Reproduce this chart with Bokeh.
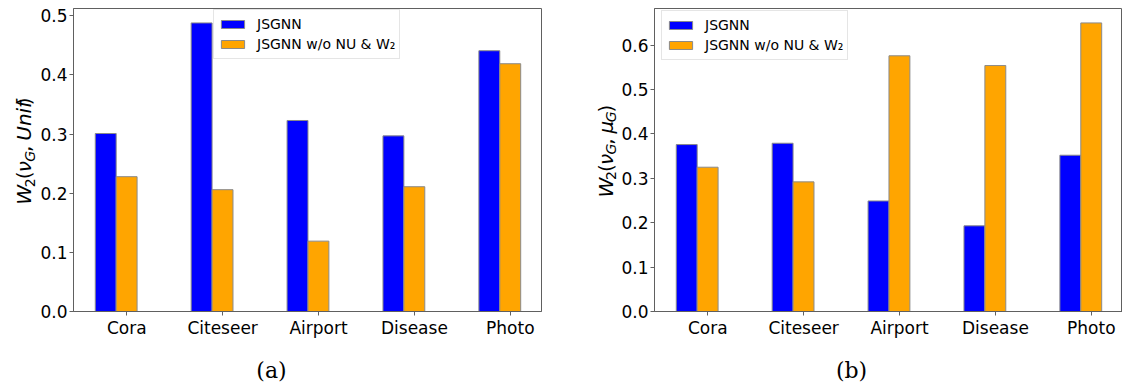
import math
from bokeh.plotting import figure
from bokeh.layouts import row, column
from bokeh.models import (Range1d, FixedTicker, NumeralTickFormatter,
                          Legend, LegendItem)
from bokeh.core.properties import value
from bokeh.embed import file_html
from bokeh.resources import INLINE

# ---------------- data ----------------
categories = ["Cora", "Citeseer", "Airport", "Disease", "Photo"]
series_names = ["JSGNN", "JSGNN w/o NU & W\u2082"]

unif_jsgnn = [0.301, 0.488, 0.323, 0.297, 0.441]
unif_ablation = [0.228, 0.206, 0.119, 0.211, 0.419]

mu_jsgnn = [0.376, 0.379, 0.249, 0.193, 0.352]
mu_ablation = [0.325, 0.292, 0.576, 0.554, 0.650]

yticks_a = [0.0, 0.1, 0.2, 0.3, 0.4, 0.5]
yticks_b = [0.0, 0.1, 0.2, 0.3, 0.4, 0.5, 0.6]

captions = ["(a)", "(b)"]

# ---------------- style / layout ----------------
BLUE = "#0000ff"
ORANGE = "#ffa500"
EDGE = "#8a8a8a"
AXIS = "#606060"

BAR_W = 0.218
GROUP_SHIFT = -0.11          # group centre relative to tick position
XR = (-0.555, 4.325)
MAIN_H = 340
CAP_H = 45
FRAME_TOP = 8
FRAME_BOTTOM_BORDER = 27
MID_SHIFT = 0.35             # baseline lies this many em below a "middle" anchor

# DejaVu Sans advance widths (em) for the mathtext-like y labels
ADV = {"W": 0.989, "2": 0.636, "(": 0.390, "\u03bd": 0.592, "G": 0.775,
       ",": 0.636, "U": 0.732, "n": 0.634, "i": 0.278, "f": 0.352,
       ")": 0.390, "\u03bc": 0.636}


def text_width(s, size):
    return sum(ADV.get(c, 0.6) for c in s) * size


def blank_fig(width, height):
    f = figure(width=width, height=height, output_backend="svg",
               toolbar_location=None, x_range=Range1d(0, width),
               y_range=Range1d(0, height), x_axis_type=None, y_axis_type=None,
               min_border=0, min_border_left=0, min_border_right=0,
               min_border_top=0, min_border_bottom=0)
    f.xgrid.visible = False
    f.ygrid.visible = False
    f.outline_line_color = None
    return f


def ylabel_fig(width, baseline_x, parts):
    f = blank_fig(width, MAIN_H)
    base, sub = 20, 14
    total = sum(text_width(t, sub if s else base) for t, s, _ in parts)
    frame_mid = MAIN_H - (FRAME_TOP + (MAIN_H - FRAME_BOTTOM_BORDER)) / 2
    cum = 0.0
    for txt, is_sub, ital in parts:
        size = sub if is_sub else base
        bx = baseline_x + (3.5 if is_sub else 0)
        f.text(x=[bx - MID_SHIFT * size],
               y=[frame_mid - total / 2 + cum], text=[txt],
               angle=math.pi / 2, text_font=value("DejaVu Sans"),
               text_font_style="italic" if ital else "normal",
               text_font_size=f"{size}px", text_color="#000000",
               text_align="left", text_baseline="middle")
        cum += text_width(txt, size)
    return f


def make_panel(jsgnn, ablation, yticks, ymax, width, bl, br, legend_loc):
    p = figure(width=width, height=MAIN_H, output_backend="svg",
               toolbar_location=None, x_range=Range1d(*XR),
               y_range=Range1d(0, ymax),
               min_border_left=bl, min_border_right=br,
               min_border_top=FRAME_TOP, min_border_bottom=FRAME_BOTTOM_BORDER)
    p.xgrid.visible = False
    p.ygrid.visible = False
    p.outline_line_color = AXIS
    p.outline_line_width = 1

    xs = list(range(len(categories)))
    x_blue = [x + GROUP_SHIFT - BAR_W / 2 for x in xs]
    x_orange = [x + GROUP_SHIFT + BAR_W / 2 for x in xs]
    r1 = p.vbar(x=x_blue, top=jsgnn, width=BAR_W, bottom=0,
                fill_color=BLUE, line_color=EDGE, line_width=1)
    r2 = p.vbar(x=x_orange, top=ablation, width=BAR_W, bottom=0,
                fill_color=ORANGE, line_color=EDGE, line_width=1)

    for ax in (p.xaxis[0], p.yaxis[0]):
        ax.axis_line_color = AXIS
        ax.major_tick_line_color = AXIS
        ax.major_tick_out = 4
        ax.major_tick_in = 0
        ax.minor_tick_line_color = None
        ax.major_label_text_font = "DejaVu Sans"
        ax.major_label_text_font_size = "17px"
        ax.major_label_text_color = "#000000"

    p.xaxis.ticker = FixedTicker(ticks=xs)
    p.xaxis.major_label_overrides = {i: c for i, c in enumerate(categories)}
    p.xaxis.major_label_standoff = 2
    p.yaxis.ticker = FixedTicker(ticks=yticks)
    p.yaxis.formatter = NumeralTickFormatter(format="0.0")
    p.yaxis.major_label_standoff = 2

    legend = Legend(items=[LegendItem(label=series_names[0], renderers=[r1]),
                           LegendItem(label=series_names[1], renderers=[r2])],
                    location=legend_loc, margin=0, padding=4, spacing=0,
                    glyph_width=29, glyph_height=10, label_height=20,
                    label_standoff=10, label_text_font="DejaVu Sans",
                    label_text_font_size="14px", label_text_color="#000000",
                    border_line_color="#cccccc", border_line_width=1,
                    background_fill_alpha=0.85)
    p.add_layout(legend)
    return p


parts_a = [("W", False, True), ("2", True, False), ("(", False, False),
           ("\u03bd", False, True), ("G", True, True), (",", False, False),
           ("Unif", False, True), (")", False, False)]
parts_b = [("W", False, True), ("2", True, False), ("(", False, False),
           ("\u03bd", False, True), ("G", True, True), (",", False, False),
           ("\u03bc", False, True), ("G", True, True), (")", False, False)]

lab_a = ylabel_fig(37, 30.5, parts_a)
pa = make_panel(unif_jsgnn, unif_ablation, yticks_a, 0.5124, 523, 34, 19,
                (140, 252))
lab_b = ylabel_fig(58, 52.0, parts_b)
pb = make_panel(mu_jsgnn, mu_ablation, yticks_b, 0.6825, 504, 34, 0,
                (7, 251))

cap = blank_fig(1122, CAP_H)
cap.text(x=[271, 851], y=[15, 15], text=captions,
         text_font=value("DejaVu Serif"), text_font_size="22px",
         text_color="#000000", text_align="center", text_baseline="middle")

layout = column(row(lab_a, pa, lab_b, pb), cap)
open("out.html", "w").write(file_html(layout, INLINE))
